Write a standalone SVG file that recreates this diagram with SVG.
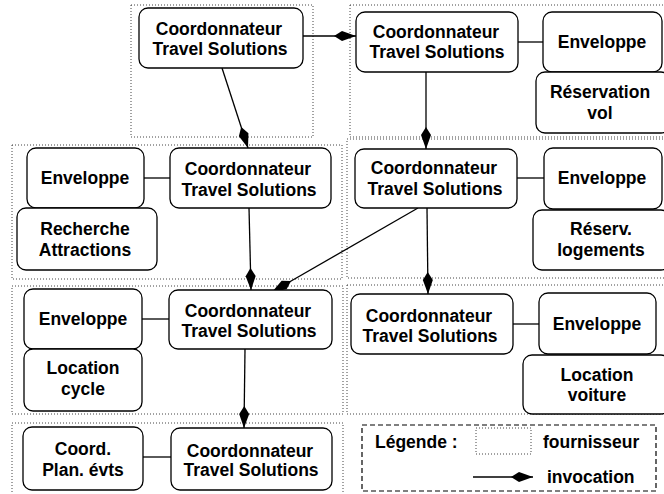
<svg xmlns="http://www.w3.org/2000/svg" width="664" height="494" viewBox="0 0 664 494">
<style>
.zone{fill:none;stroke:#444;stroke-width:1;stroke-dasharray:1 2}
.box{fill:#fff;stroke:#000;stroke-width:1.3}
.t{font-family:"Liberation Sans",Arial,sans-serif;font-weight:bold;font-size:17.5px;fill:#000;text-anchor:middle}
.tl{font-family:"Liberation Sans",Arial,sans-serif;font-weight:bold;font-size:17.5px;fill:#000}
.link{stroke:#000;stroke-width:1.3;fill:none}
.inv{stroke:#000;stroke-width:1.3;fill:none;marker-end:url(#kite)}
</style>
<defs>
<marker id="kite" viewBox="-23 -6 24 12" refX="0" refY="0" markerWidth="24" markerHeight="12" markerUnits="userSpaceOnUse" orient="auto">
<path d="M0,0 L-14,-5 L-22,0 L-14,5 Z" fill="#000"/>
</marker>
</defs>
<g id="zones">
<rect class="zone" x="131" y="5" width="182" height="132"/>
<rect class="zone" x="350" y="5" width="320" height="132"/>
<rect class="zone" x="12" y="145" width="330" height="134"/>
<rect class="zone" x="347" y="139" width="323" height="139"/>
<rect class="zone" x="12" y="286" width="331" height="128"/>
<rect class="zone" x="347" y="285" width="323" height="129"/>
<rect class="zone" x="12" y="423" width="331" height="80"/>
</g>
<g id="connectors">
<line class="link" x1="518" y1="42" x2="543" y2="42"/>
<line class="link" x1="144" y1="178" x2="170" y2="178"/>
<line class="link" x1="517" y1="178" x2="544" y2="178"/>
<line class="link" x1="142" y1="319" x2="169" y2="319"/>
<line class="link" x1="513" y1="324" x2="539" y2="324"/>
<line class="link" x1="143" y1="457" x2="171" y2="457"/>
<line class="inv" x1="303" y1="36" x2="356" y2="36"/>
<line class="inv" x1="222" y1="68" x2="248" y2="148"/>
<line class="inv" x1="426" y1="72" x2="426" y2="149"/>
<line class="inv" x1="249" y1="208" x2="251" y2="290"/>
<line class="inv" x1="418" y1="208" x2="272" y2="292"/>
<line class="inv" x1="427" y1="208" x2="428" y2="294"/>
<line class="inv" x1="245" y1="349" x2="244" y2="428"/>
</g>
<g id="coord-top-left">
<rect class="box" x="139" y="8" width="164" height="60" rx="9"/>
<text class="t" x="219" y="35">Coordonnateur</text>
<text class="t" x="220" y="55">Travel Solutions</text>
</g>
<g id="coord-top-right">
<rect class="box" x="356" y="12" width="162" height="60" rx="9"/>
<text class="t" x="436" y="38">Coordonnateur</text>
<text class="t" x="437" y="58">Travel Solutions</text>
</g>
<g id="env-top-right">
<rect class="box" x="543" y="12" width="119" height="60" rx="9"/>
<text class="t" x="602" y="48">Enveloppe</text>
</g>
<g id="resa-vol">
<rect class="box" x="536" y="72" width="134" height="61" rx="9"/>
<text class="t" x="600" y="98">Réservation</text>
<text class="t" x="600" y="119">vol</text>
</g>
<g id="coord-mid-left">
<rect class="box" x="170" y="148" width="161" height="60" rx="9"/>
<text class="t" x="248" y="175">Coordonnateur</text>
<text class="t" x="249" y="196">Travel Solutions</text>
</g>
<g id="env-mid-left">
<rect class="box" x="27" y="148" width="117" height="60" rx="9"/>
<text class="t" x="85" y="184">Enveloppe</text>
</g>
<g id="recherche">
<rect class="box" x="17" y="208" width="140" height="62" rx="9"/>
<text class="t" x="85" y="235">Recherche</text>
<text class="t" x="85" y="256">Attractions</text>
</g>
<g id="coord-mid-right">
<rect class="box" x="355" y="149" width="162" height="59" rx="9"/>
<text class="t" x="434" y="174">Coordonnateur</text>
<text class="t" x="435" y="195">Travel Solutions</text>
</g>
<g id="env-mid-right">
<rect class="box" x="544" y="148" width="118" height="61" rx="9"/>
<text class="t" x="602" y="184">Enveloppe</text>
</g>
<g id="resa-logements">
<rect class="box" x="533" y="210" width="137" height="60" rx="9"/>
<text class="t" x="601" y="235">Réserv.</text>
<text class="t" x="601" y="256">logements</text>
</g>
<g id="coord-low-left">
<rect class="box" x="169" y="290" width="163" height="59" rx="9"/>
<text class="t" x="248" y="317">Coordonnateur</text>
<text class="t" x="249" y="337">Travel Solutions</text>
</g>
<g id="env-low-left">
<rect class="box" x="24" y="289" width="118" height="60" rx="9"/>
<text class="t" x="83" y="325">Enveloppe</text>
</g>
<g id="location-cycle">
<rect class="box" x="24" y="349" width="118" height="62" rx="9"/>
<text class="t" x="83" y="374">Location</text>
<text class="t" x="83" y="395">cycle</text>
</g>
<g id="coord-low-right">
<rect class="box" x="351" y="294" width="162" height="60" rx="9"/>
<text class="t" x="429" y="322">Coordonnateur</text>
<text class="t" x="430" y="342">Travel Solutions</text>
</g>
<g id="env-low-right">
<rect class="box" x="539" y="293" width="117" height="61" rx="9"/>
<text class="t" x="597" y="330">Enveloppe</text>
</g>
<g id="location-voiture">
<rect class="box" x="523" y="355" width="147" height="59" rx="9"/>
<text class="t" x="597" y="381">Location</text>
<text class="t" x="597" y="401">voiture</text>
</g>
<g id="coord-plan">
<rect class="box" x="23" y="427" width="120" height="63" rx="9"/>
<text class="t" x="83" y="455">Coord.</text>
<text class="t" x="83" y="476">Plan. évts</text>
</g>
<g id="coord-bottom">
<rect class="box" x="171" y="428" width="161" height="62" rx="9"/>
<text class="t" x="250" y="457">Coordonnateur</text>
<text class="t" x="251" y="476">Travel Solutions</text>
</g>
<g id="legend">
<rect x="362" y="425" width="294" height="66" fill="none" stroke="#000" stroke-width="1.2" stroke-dasharray="5 3"/>
<text class="tl" x="375" y="448">Légende :</text>
<rect class="zone" x="476" y="428" width="55" height="26"/>
<text class="tl" x="543" y="448">fournisseur</text>
<line class="inv" x1="473" y1="477" x2="533" y2="477"/>
<text class="tl" x="547" y="483">invocation</text>
</g>
</svg>
